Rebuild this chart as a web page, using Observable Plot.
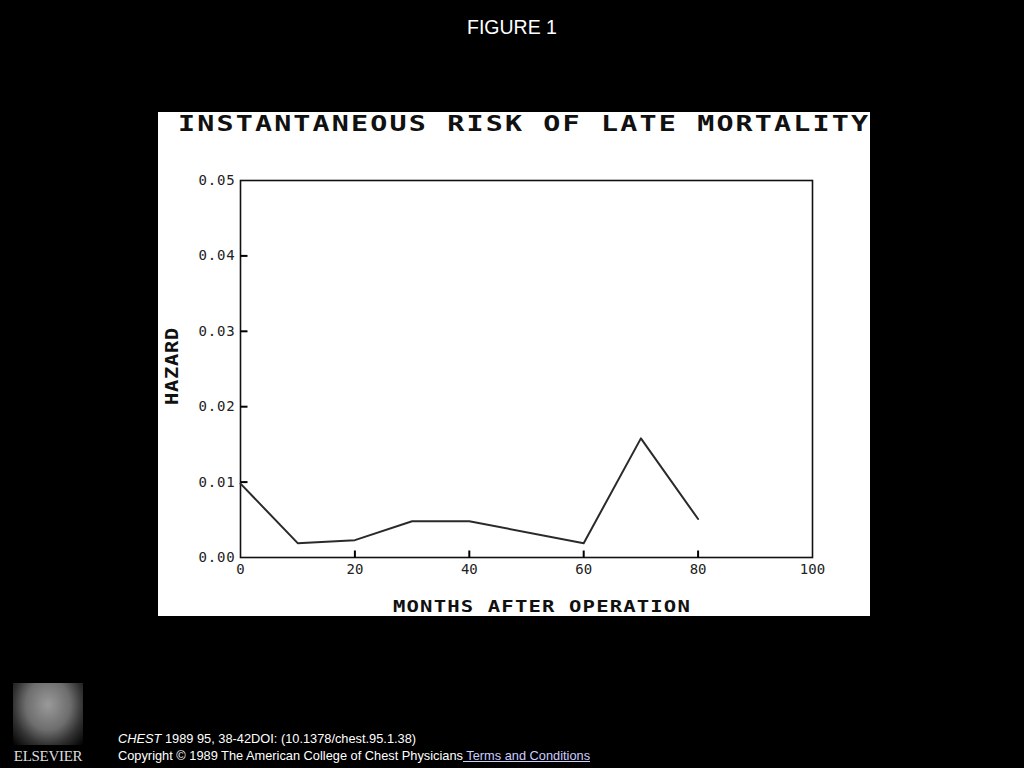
<!DOCTYPE html>
<html>
<head>
<meta charset="utf-8">
<script src="https://cdn.jsdelivr.net/npm/d3@7"></script>
<script src="https://cdn.jsdelivr.net/npm/@observablehq/plot@0.6"></script>
<style>
  html, body { margin: 0; padding: 0; background: #000; width: 1024px; height: 768px; overflow: hidden; }
  #page { position: relative; width: 1024px; height: 768px; background: #000; font-family: "Liberation Sans", Arial, sans-serif; }
  #fig { position: absolute; top: 16px; left: 0; width: 1024px; text-align: center; color: #fff; font-size: 19.5px; }
  #panel { position: absolute; left: 158px; top: 112px; width: 712px; height: 504px; background: #fff; overflow: hidden; }
  #title { position: absolute; left: 20px; top: 0px; white-space: nowrap; font-family: "DejaVu Sans Mono", monospace; font-weight: bold; font-size: 21px; letter-spacing: 1.6px; color: #111; transform: scaleX(1.35); transform-origin: 0 0; }
  #ylab { position: absolute; left: 5px; top: 254px; width: 0; height: 0; }
  #ylab span { position: absolute; transform: translate(-50%, -50%) rotate(-90deg) scaleX(1.2); left: 9px; top: 0; white-space: nowrap; font-family: "DejaVu Sans Mono", monospace; font-weight: bold; font-size: 17px; letter-spacing: 0.6px; color: #111; }
  #xlab { position: absolute; left: 235px; top: 485px; white-space: nowrap; font-family: "DejaVu Sans Mono", monospace; font-weight: bold; font-size: 16.5px; letter-spacing: 0.9px; color: #111; transform: scaleX(1.25); transform-origin: 0 0; }
  #chart { position: absolute; left: 0; top: 0; }
  #logo { position: absolute; left: 10px; top: 683px; width: 76px; height: 82px; }
  #logo .tree { position: absolute; left: 3px; top: 0; width: 70px; height: 62px; background: radial-gradient(ellipse at 50% 35%, #9a9a9a 0%, #6d6d6d 45%, #333 70%, #000 100%); }
  #logo .name { position: absolute; left: 0; bottom: 0; width: 76px; text-align: center; font-family: "Liberation Serif", serif; font-size: 15px; color: #ddd; letter-spacing: -0.3px; }
  #cite { position: absolute; left: 118px; top: 730px; color: #fff; font-size: 12.8px; line-height: 17px; }
  #cite a { color: #ccccff; text-decoration: underline; }
</style>
</head>
<body>
<div id="page">
  <div id="fig">FIGURE 1</div>
  <div id="panel">
    <div id="chart"></div>
    <div id="title">INSTANTANEOUS RISK OF LATE MORTALITY</div>
    <div id="ylab"><span>HAZARD</span></div>
    <div id="xlab">MONTHS AFTER OPERATION</div>
  </div>
  <div id="logo"><div class="tree"></div><div class="name">ELSEVIER</div></div>
  <div id="cite">
    <div><i>CHEST</i> 1989 95, 38-42DOI: (10.1378/chest.95.1.38)</div>
    <div>Copyright © 1989 The American College of Chest Physicians<a> Terms and Conditions</a></div>
  </div>
</div>
<script>
const months = [0, 10, 20, 30, 40, 60, 70, 80];
const hazard = [0.0098, 0.0019, 0.0023, 0.0048, 0.0048, 0.0019, 0.0158, 0.0051];
const xTicks = [0, 20, 40, 60, 80, 100];
const yTicks = [0, 0.01, 0.02, 0.03, 0.04, 0.05];

const data = months.map((m, i) => ({month: m, hazard: hazard[i]}));

const W = 712, H = 504, ML = 82, MT = 68, MR = 58, MB = 59;
const innerW = W - ML - MR, innerH = H - MT - MB;
const tickLen = 7;
const xMin = xTicks[0], xMax = xTicks[xTicks.length - 1];
const yMin = yTicks[0], yMax = yTicks[yTicks.length - 1];
// inward tick length expressed in data units so the marks go through the scales
const xTickSpan = tickLen / innerH * (yMax - yMin);
const yTickSpan = tickLen / innerW * (xMax - xMin);

const xTickData = xTicks.slice(1, -1).map(v => ({v, a: yMin, b: yMin + xTickSpan}));
const yTickData = yTicks.slice(1, -1).map(v => ({v, a: xMin, b: xMin + yTickSpan}));

const chart = Plot.plot({
  width: W,
  height: H,
  marginLeft: ML,
  marginTop: MT,
  marginRight: MR,
  marginBottom: MB,
  style: {background: "transparent", fontFamily: "'DejaVu Sans Mono', monospace", fontSize: "14px", color: "#222"},
  x: {domain: [xMin, xMax]},
  y: {domain: [yMin, yMax]},
  marks: [
    Plot.axisX({ticks: xTicks, tickSize: 0, tickPadding: 7, label: null, tickFormat: d => String(d), fill: "#222"}),
    Plot.axisY({ticks: yTicks, tickSize: 0, tickPadding: 5, label: null, tickFormat: d => d.toFixed(2), fill: "#222"}),
    Plot.frame({stroke: "#111", strokeWidth: 1.6}),
    Plot.link(xTickData, {x1: "v", x2: "v", y1: "a", y2: "b", stroke: "#000", strokeWidth: 2}),
    Plot.link(yTickData, {y1: "v", y2: "v", x1: "a", x2: "b", stroke: "#000", strokeWidth: 2}),
    Plot.line(data, {x: "month", y: "hazard", stroke: "#2a2a2a", strokeWidth: 2})
  ]
});
chart.querySelectorAll('[aria-label="y-axis tick label"] text').forEach(t => t.setAttribute("letter-spacing", "0.8"));
document.getElementById("chart").appendChild(chart);
</script>
</body>
</html>
